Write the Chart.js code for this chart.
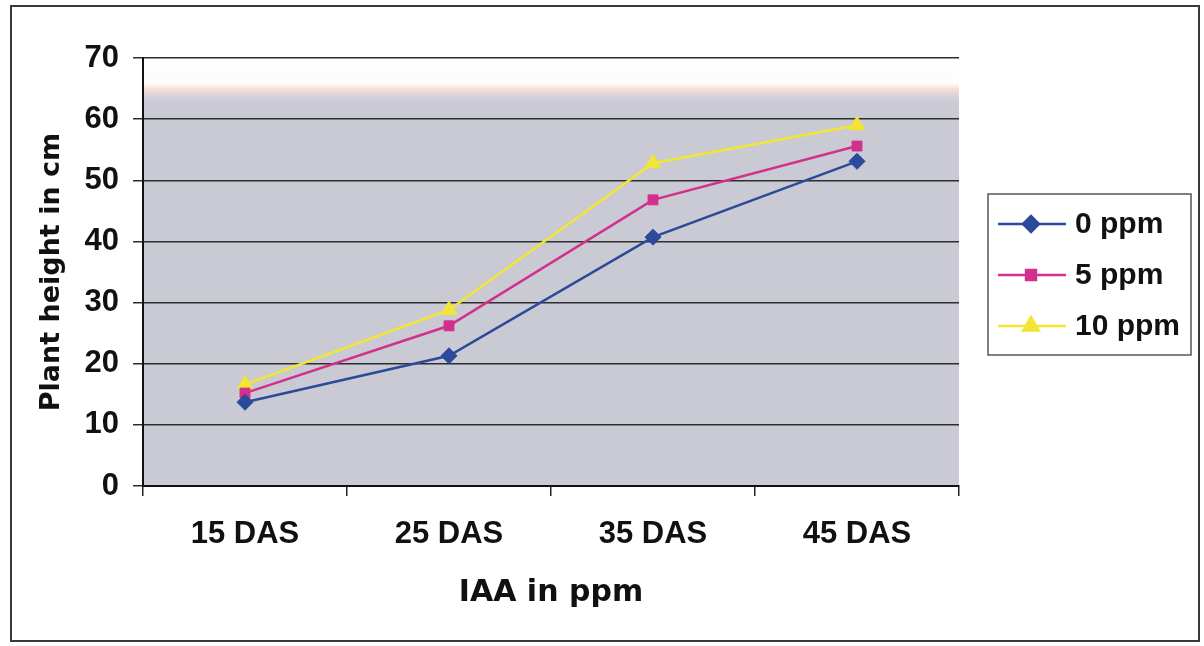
<!DOCTYPE html>
<html><head><meta charset="utf-8">
<script src="https://cdn.jsdelivr.net/npm/chart.js@4.4.1/dist/chart.umd.min.js"></script>
<style>html,body{margin:0;padding:0;background:#fff;overflow:hidden}canvas{display:block}</style>
</head><body>
<canvas id="c" width="1204" height="646" style="width:1204px;height:646px"></canvas>
<script>
const categories = ['15 DAS', '25 DAS', '35 DAS', '45 DAS'];
const seriesNames = ['0 ppm', '5 ppm', '10 ppm'];
const ppm0 = [13.7, 21.3, 40.7, 53.1];
const ppm5 = [15.2, 26.2, 46.8, 55.6];
const ppm10 = [16.6, 28.8, 52.8, 59.0];
const yTicks = [0, 10, 20, 30, 40, 50, 60, 70];
const yTitle = 'Plant height in cm';
const xTitle = 'IAA in ppm';

const colors = ['#2c4a9a', '#d2308c', '#f3e535'];
const styles = [
  {pointStyle: 'rectRot', radius: 8},
  {pointStyle: 'rect', radius: 7},
  {pointStyle: 'triangle', radius: 9}
];
const seriesValues = [ppm0, ppm5, ppm10];

const bgPlugin = {
  id: 'bg',
  beforeDraw(chart) {
    const {ctx, chartArea: a, width, height} = chart;
    ctx.save();
    ctx.fillStyle = '#ffffff';
    ctx.fillRect(0, 0, width, height);
    const grey = '#c9cad3';
    ctx.fillStyle = grey;
    ctx.fillRect(a.left, a.top, a.right - a.left, a.bottom - a.top);
    const g = ctx.createLinearGradient(0, a.top, 0, a.top + 44);
    g.addColorStop(0, '#ffffff');
    g.addColorStop(0.58, '#fdfcfb');
    g.addColorStop(0.72, '#f4dfcc');
    g.addColorStop(0.86, '#d6d4dc');
    g.addColorStop(1, grey);
    ctx.fillStyle = g;
    ctx.fillRect(a.left, a.top, a.right - a.left, 44);
    ctx.strokeStyle = '#3a3a3a';
    ctx.lineWidth = 2;
    ctx.strokeRect(11, 6, 1188, 635);
    ctx.restore();
  }
};

const legendPlugin = {
  id: 'customLegend',
  afterDraw(chart) {
    const {ctx} = chart;
    ctx.save();
    ctx.strokeStyle = '#555555';
    ctx.lineWidth = 1.5;
    ctx.strokeRect(988, 194, 203, 161);
    const rows = [224, 275, 326];
    chart.data.datasets.forEach((ds, i) => {
      const y = rows[i];
      ctx.strokeStyle = ds.borderColor;
      ctx.lineWidth = 2.5;
      ctx.beginPath();
      ctx.moveTo(998, y);
      ctx.lineTo(1066, y);
      ctx.stroke();
      ctx.fillStyle = ds.pointBackgroundColor;
      ctx.strokeStyle = ds.pointBorderColor;
      Chart.helpers.drawPoint(ctx, {pointStyle: ds.pointStyle, radius: ds.pointRadius, rotation: 0, borderWidth: 1}, 1031, y);
      ctx.fillStyle = '#111111';
      ctx.font = 'bold 30px "Liberation Sans", Arial, sans-serif';
      ctx.textBaseline = 'middle';
      ctx.textAlign = 'left';
      ctx.fillText(ds.label, 1075, y + 1);
    });
    ctx.restore();
  }
};

new Chart(document.getElementById('c'), {
  type: 'line',
  data: {
    labels: categories,
    datasets: seriesValues.map((vals, i) => ({
      label: seriesNames[i],
      data: vals,
      borderColor: colors[i],
      backgroundColor: colors[i],
      pointBackgroundColor: colors[i],
      pointBorderColor: colors[i],
      pointStyle: styles[i].pointStyle,
      pointRadius: styles[i].radius,
      pointBorderWidth: 1,
      borderWidth: 2.5,
      tension: 0,
      fill: false
    }))
  },
  options: {
    responsive: false,
    animation: false,
    devicePixelRatio: 1,
    layout: {padding: {left: 12, right: 245, top: 58, bottom: 7}},
    plugins: {legend: {display: false}, tooltip: {enabled: false}},
    scales: {
      x: {
        offset: true,
        afterFit(s) { s.height = 153; },
        grid: {offset: true, drawOnChartArea: false, drawTicks: true, tickLength: 10, color: '#222', lineWidth: 1.5},
        border: {color: '#111', width: 2},
        ticks: {color: '#111', padding: 20, maxRotation: 0, font: {family: '"Liberation Sans", Arial, sans-serif', size: 31, weight: 'bold'}},
        title: {display: true, text: xTitle, color: '#111', padding: {top: 0, bottom: 28}, font: {family: '"DejaVu Sans", sans-serif', size: 30, weight: 'bold'}}
      },
      y: {
        min: 0, max: 70,
        afterFit(s) { s.width = 131; },
        afterBuildTicks(s) { s.ticks = yTicks.map(v => ({value: v})); },
        grid: {color: '#2e2e2e', lineWidth: 1.5, tickLength: 10},
        border: {color: '#111', width: 2},
        ticks: {color: '#111', padding: 14, font: {family: '"Liberation Sans", Arial, sans-serif', size: 31, weight: 'bold'}},
        title: {display: true, text: yTitle, color: '#111', padding: {top: 24, bottom: 0}, font: {family: '"DejaVu Sans", sans-serif', size: 27, weight: 'bold'}}
      }
    }
  },
  plugins: [bgPlugin, legendPlugin]
});
</script>
</body></html>
